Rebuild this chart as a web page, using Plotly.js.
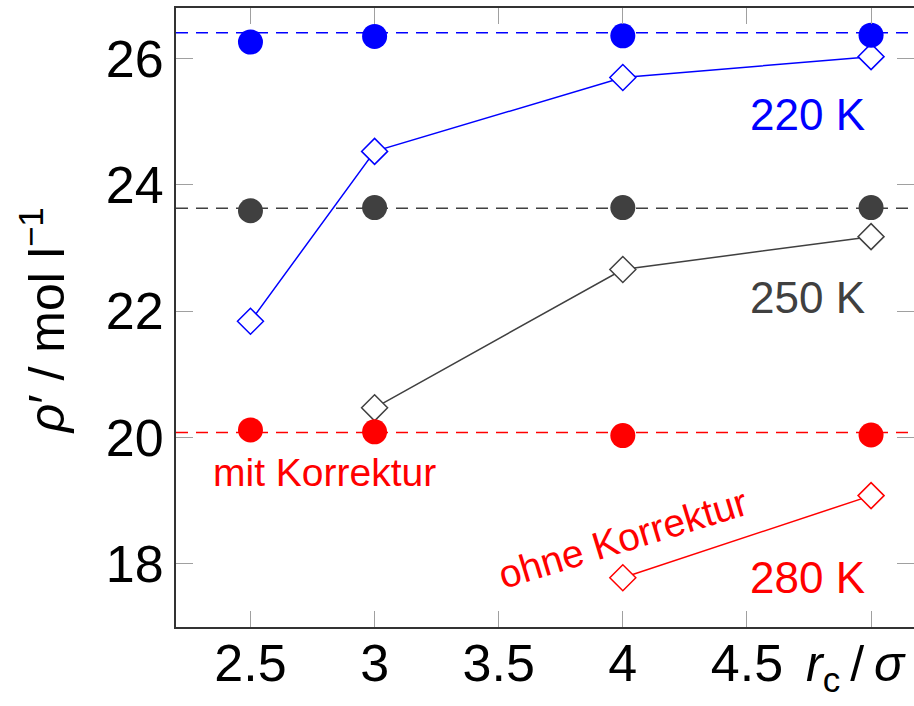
<!DOCTYPE html>
<html><head><meta charset="utf-8">
<script src="https://cdn.plot.ly/plotly-3.0.1.min.js"></script>
<style>html,body{margin:0;padding:0;background:#fff}</style>
</head><body>
<div id="chart" style="width:914px;height:706px"></div>
<script>
// cutoff radius r_c / sigma
const rc = [2.5, 3, 4, 5];
// with long-range correction (filled circles)
const mit220 = [26.26, 26.35, 26.36, 26.37];
const mit250 = [23.59, 23.64, 23.64, 23.64];
const mit280 = [20.12, 20.09, 20.03, 20.04];
// without correction (open diamonds)
const ohne220x = [2.5, 3, 4, 5];
const ohne220 = [21.84, 24.53, 25.70, 26.03];
const ohne250x = [3, 4, 5];
const ohne250 = [20.47, 22.66, 23.18];
const ohne280x = [4, 5];
const ohne280 = [17.78, 19.08];
// reference densities (dashed lines)
const refRho = [26.41, 23.63, 20.08];
const xTickVals = [2.5, 3, 3.5, 4, 4.5, 5];
const xTickText = ['2.5', '3', '3.5', '4', '4.5', ''];
const yTickVals = [18, 20, 22, 24, 26];

const colors = ['#0000ff', '#404040', '#ff0000'];
const F = 'Liberation Sans, Arial, Helvetica, sans-serif';

const traces = [];
const ohneX = [ohne220x, ohne250x, ohne280x];
const ohneY = [ohne220, ohne250, ohne280];
const mitY = [mit220, mit250, mit280];
for (let i = 0; i < 3; i++) {
  traces.push({x: ohneX[i], y: ohneY[i], mode: 'lines+markers', type: 'scatter',
    line: {color: colors[i], width: 1.5},
    marker: {symbol: 'diamond', size: 20, color: '#ffffff', line: {width: 1.5, color: colors[i]}},
    showlegend: false, cliponaxis: false});
}
for (let i = 0; i < 3; i++) {
  traces.push({x: rc, y: mitY[i], mode: 'markers', type: 'scatter',
    marker: {symbol: 'circle', size: 25, color: colors[i]},
    showlegend: false, cliponaxis: false});
}

const shapes = refRho.map((v, i) => ({type: 'line', xref: 'paper', x0: 0, x1: 1, yref: 'y', y0: v, y1: v,
  line: {color: colors[i], width: 1.5, dash: '12px,8px'}, layer: 'below'}));

const annotations = [
  {x: 4.742, y: 25.12, text: '220 K', font: {color: colors[0], size: 44, family: F}},
  {x: 4.742, y: 22.22, text: '250 K', font: {color: colors[1], size: 44, family: F}},
  {x: 4.742, y: 17.79, text: '280 K', font: {color: colors[2], size: 44, family: F}},
  {x: 2.798, y: 19.44, text: 'mit Korrektur', font: {color: colors[2], size: 39, family: F}},
  {x: 4.0, y: 18.40, text: 'ohne Korrektur', textangle: -17, font: {color: colors[2], size: 39, family: F}},
  {xref: 'paper', yref: 'paper', x: 0.922, y: -0.065, text: '<i>r</i><sub>c</sub>\u2009/\u2009<i>σ</i>', font: {color: '#000', size: 50, family: F}},
  {xref: 'paper', yref: 'paper', x: -0.180, y: 0.494, textangle: -90, text: '<i>ρ</i>′ / mol l<sup>−1</sup>', font: {color: '#000', size: 50, family: F}}
].map(a => Object.assign({showarrow: false, xanchor: 'center', yanchor: 'middle', xref: 'x', yref: 'y'}, a));

const layout = {
  width: 914, height: 706,
  margin: {l: 176, r: 0, t: 8, b: 79},
  paper_bgcolor: '#fff', plot_bgcolor: '#fff',
  font: {family: F, color: '#000'},
  xaxis: {range: [2.2, 5.173], tickvals: xTickVals, ticktext: xTickText,
    ticks: 'inside', ticklen: 16, tickwidth: 1, tickcolor: '#a0a0a0', ticklabelstandoff: -10,
    showline: true, linecolor: '#333', linewidth: 2, mirror: 'ticks',
    showgrid: false, zeroline: false, tickfont: {size: 52, family: F, color: '#000'}},
  yaxis: {range: [17.0, 26.8], tickvals: yTickVals,
    ticks: 'inside', ticklen: 17, tickwidth: 1, tickcolor: '#a0a0a0',
    showline: true, linecolor: '#333', linewidth: 2, mirror: 'ticks',
    showgrid: false, zeroline: false, tickfont: {size: 52, family: F, color: '#000'}},
  shapes: shapes,
  annotations: annotations
};
Plotly.newPlot('chart', traces, layout, {staticPlot: true, displayModeBar: false});
</script>
</body></html>
